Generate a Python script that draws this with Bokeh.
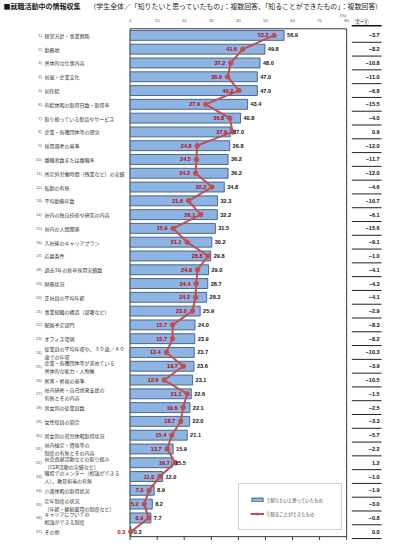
from bokeh.plotting import figure
from bokeh.models import Range1d, ColumnDataSource, Legend, LegendItem
from bokeh.core.properties import value
from bokeh.embed import file_html
from bokeh.resources import INLINE

title_main = "■就職活動中の情報収集"
title_sub = "（学生全体／「知りたいと思っていたもの」：複数回答、「知ることができたもの」：複数回答）"

categories = [
    "経営方針・事業戦略",
    "勤務地",
    "具体的な仕事内容",
    "社風・企業文化",
    "初任給",
    "有給休暇の取得日数・取得率",
    "取り扱っている製品やサービス",
    "企業・各種団体等の理念",
    "採用選考の基準",
    "離職者数または離職率",
    "所定外労働時間（残業など）の実績",
    "転勤の有無",
    "平均勤務年数",
    "社内の独自技術や研究の内容",
    "社内の人間関係",
    "入社後のキャリアプラン",
    "応募条件",
    "過去3年の新卒採用実績数",
    "財務状況",
    "正社員の平均年齢",
    "事業組織の構造（部署など）",
    "配属予定部門",
    "オフィス環境",
    "従業員の平均年収や、３０歳／４０\n歳での年収",
    "企業・各種団体等が求めている\n具体的な能力・人物像",
    "昇進・昇格の基準",
    "社内研修・自己啓発支援の\n有無とその内容",
    "男女別の従業員数",
    "女性役員の割合",
    "男女別の育児休暇取得状況",
    "社内検定・資格等の\n制度の有無とその内容",
    "社会貢献活動などの取り組み\n（CSR活動の実績など）",
    "職場でのメンター（相談ができる\n人）、教育担当の有無",
    "介護休暇の取得状況",
    "定年制度の状況\n（年齢・継続雇用の制度など）",
    "キャリアについての\n相談ができる制度",
    "その他",
]

want = [56.9, 49.8, 48.0, 47.0, 47.0, 43.4, 40.8, 37.0, 36.8, 36.2, 36.2, 34.8,
        32.3, 32.2, 31.5, 30.2, 29.8, 29.0, 28.7, 28.3, 25.9, 24.0, 23.9, 23.7,
        23.6, 23.1, 22.6, 22.1, 22.0, 21.1, 15.9, 15.5, 12.0, 8.9, 8.2, 7.7, 0.3]

got = [53.2, 41.6, 37.2, 36.0, 40.2, 27.9, 36.8, 37.9, 24.8, 24.5, 24.2, 30.2,
       21.6, 26.1, 15.9, 21.1, 28.8, 24.9, 24.4, 24.2, 23.0, 15.7, 15.7, 13.4,
       19.7, 12.6, 21.1, 19.6, 18.7, 15.4, 13.7, 16.7, 11.0, 7.0, 5.2, 6.9, 0.3]

diff = [-3.7, -8.2, -10.8, -11.0, -6.8, -15.5, -4.0, 0.9, -12.0, -11.7, -12.0, -4.6,
        -10.7, -6.1, -15.6, -9.1, -1.0, -4.1, -4.3, -4.1, -2.9, -8.3, -8.2, -10.3,
        -3.9, -10.5, -1.5, -2.5, -3.3, -5.7, -2.2, 1.2, -1.0, -1.9, -3.0, -0.8, 0.0]

x_ticks = [0, 10, 20, 30, 40, 50, 60, 70, 80]
legend_labels = ["①知りたいと思っていたもの", "②知ることができたもの"]
diff_header = "②−①"

JP = value("Noto Sans CJK JP")
NUM = value("Liberation Sans")

n = len(categories)
rows = list(range(1, n + 1))

def fmt(v):
    s = f"{v:.1f}"
    return s.replace("-", "−")

src = ColumnDataSource(dict(
    row=rows, cat=categories, want=want, got=got,
    want_txt=[f"{v:.1f}" for v in want],
    got_txt=[f"{v:.1f}" for v in got],
    diff_txt=[fmt(v) for v in diff],
    num=[f"{i})" for i in rows],
))

p = figure(width=384, height=540,
           x_range=Range1d(-47.87, 93.98), y_range=Range1d(37.64, -1.532),
           x_axis_location=None, y_axis_location=None,
           toolbar_location=None, output_backend="svg",
           min_border=0, outline_line_color=None)
p.xgrid.visible = False
p.ygrid.visible = False
p.background_fill_color = "white"

x0, x1 = x_ticks[0], x_ticks[-1]
top_edge = 0.52
bot_edge = n + 0.36

# title
p.text(x=[-46.8], y=[-1.11], text=[title_main], text_font=JP, text_font_size="7px",
       text_font_style="bold", text_baseline="middle", text_color="#1a1a1a")
p.text(x=[-15.0], y=[-1.11], text=[title_sub], text_font=JP, text_font_size="6.9px",
       text_baseline="middle", text_color="#1a1a1a")

# top tick labels
p.text(x=x_ticks, y=[-0.06] * len(x_ticks), text=[str(t) for t in x_ticks],
       text_font=NUM, text_font_size="4.3px", text_align="center",
       text_baseline="middle", text_color="#555555")
p.text(x=[x1 - 1.3], y=[-0.48], text=["(%)"], text_font=NUM, text_font_size="4.3px",
       text_align="center", text_baseline="middle", text_color="#555555")

# plot box
p.quad(left=[x0], right=[x1], top=[top_edge], bottom=[bot_edge],
       fill_color=None, line_color="#3a3a3a", line_width=1)
p.segment(x0=x_ticks, x1=x_ticks, y0=[bot_edge] * len(x_ticks),
          y1=[bot_edge + 0.25] * len(x_ticks), line_color="#3a3a3a", line_width=1)

# bars
bars = p.hbar(y="row", left=0, right="want", height=0.72, source=src,
              fill_color="#8DB4E2", line_color="#2F4B7C", line_width=0.8)

# line
line_r = p.line(x="got", y="row", source=src, line_color="#C0504D", line_width=2)
dots = p.scatter(x="got", y="row", source=src, size=4.5, fill_color="#C0504D",
                 line_color="#C0504D")

# blue labels
p.text(x="want", y="row", text="want_txt", source=src, x_offset=2.9,
       text_font=NUM, text_font_size="5.6px", text_font_style="bold",
       text_baseline="middle", text_align="left", text_color="#111111")
# red labels
p.text(x="got", y="row", text="got_txt", source=src, x_offset=-5.5,
       text_font=NUM, text_font_size="5.6px", text_font_style="bold",
       text_baseline="middle", text_align="right", text_color="#C00000")

# category labels
p.text(x=-32.6, y="row", text="num", source=src, text_font=NUM, text_font_size="4px",
       text_baseline="middle", text_align="right", text_color="#555555")
p.text(x=-31.6, y="row", text="cat", source=src, text_font=JP, text_font_size="5px",
       text_baseline="middle", text_align="left", text_color="#333333",
       text_line_height=1.15)

# diff column
p.text(x=[83.0], y=[0.02], text=[diff_header], text_font=JP, text_font_size="5.4px",
       text_font_style="bold", text_baseline="middle", text_align="left",
       text_color="#111111")
p.segment(x0=[81.9], x1=[92.9], y0=[0.3], y1=[0.3], line_color="#111111", line_width=1.6)
p.text(x=92.2, y="row", text="diff_txt", source=src, text_font=NUM,
       text_font_size="5.6px", text_font_style="bold", text_baseline="middle",
       text_align="right", text_color="#111111")
seps = [r + 0.5 for r in rows]
p.segment(x0=[81.9] * n, x1=[92.9] * n, y0=seps, y1=seps, line_color="#222222",
          line_width=1)

legend = Legend(items=[LegendItem(label=legend_labels[0], renderers=[bars]),
                       LegendItem(label=legend_labels[1], renderers=[line_r, dots])],
                location=(238, 10), label_text_font="Noto Sans CJK JP",
                label_text_font_size="4.4px", label_text_color="#404040",
                border_line_color="#A6A6A6", border_line_width=1,
                padding=11, spacing=5, glyph_width=14, glyph_height=5,
                label_height=9, label_width=64, label_standoff=2, margin=0,
                background_fill_color="white", background_fill_alpha=1)
p.add_layout(legend)

open("out.html", "w").write(file_html(p, INLINE))
